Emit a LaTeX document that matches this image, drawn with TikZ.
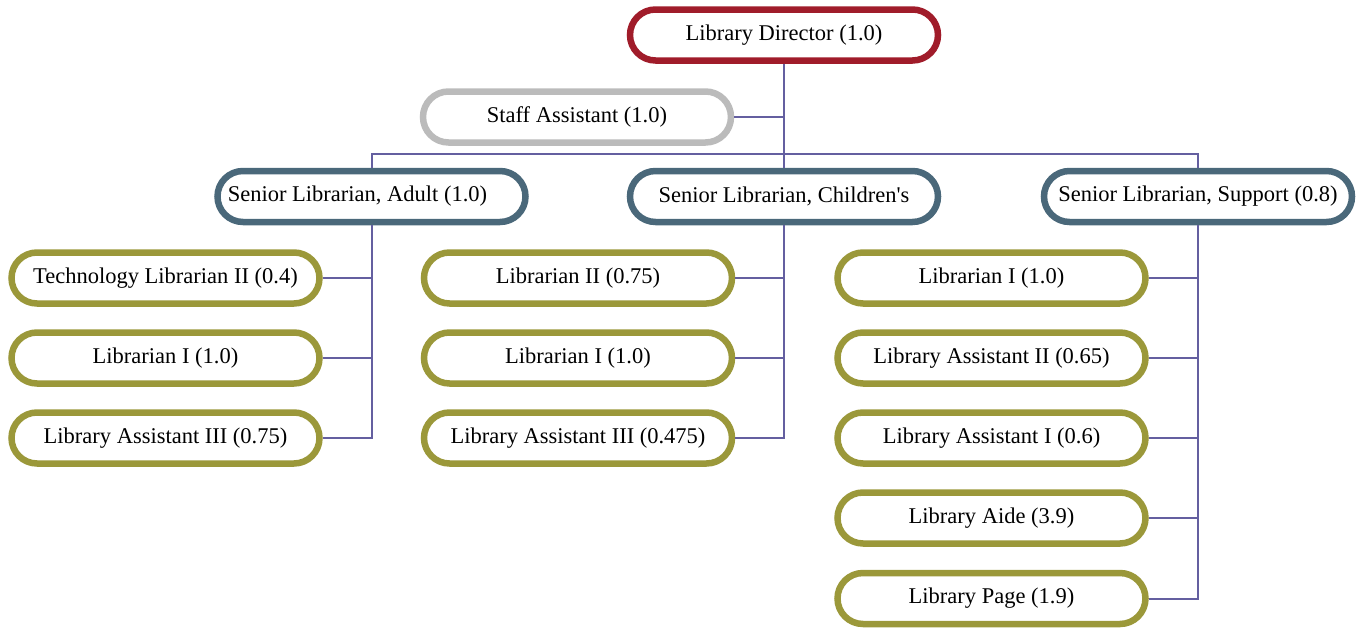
\documentclass[tikz,border=0pt]{standalone}
\usepackage{fontspec}
\setmainfont{Liberation Serif}
\definecolor{dirred}{RGB}{160,28,42}
\definecolor{staffgray}{RGB}{187,187,187}
\definecolor{slate}{RGB}{74,104,122}
\definecolor{olive}{RGB}{155,152,58}
\definecolor{linkc}{RGB}{100,95,160}
\begin{document}
\begin{tikzpicture}[x=1pt,y=-1pt,
  box/.style={draw, line width=6.5pt, fill=white, rounded corners=25.5pt,
    minimum width=308pt, minimum height=51pt, inner sep=0pt,
    font=\fontsize{22.5}{27}\selectfont},
  topbox/.style={box, draw=dirred},
  staffbox/.style={box, draw=staffgray},
  seniorbox/.style={box, draw=slate},
  leafbox/.style={box, draw=olive},
  link/.style={draw=linkc, line width=2pt}]
\useasboundingbox (0,0) rectangle (1358,627);
% nodes
\node[topbox] (dir) at (784,35) {Library Director (1.0)};
\node[staffbox] (sa) at (577,117) {Staff Assistant (1.0)};
\node[seniorbox] (sa1) at (371.5,196.5) {Senior Librarian, Adult (1.0)\hspace*{28pt}};
\node[seniorbox] (sc) at (784,196.5) {Senior Librarian, Children\textquotesingle s};
\node[seniorbox] (ss) at (1198,196.5) {Senior Librarian, Support (0.8)};
\node[leafbox] (a1) at (165.5,278) {Technology Librarian II (0.4)};
\node[leafbox] (a2) at (165.5,358) {Librarian I (1.0)};
\node[leafbox] (a3) at (165.5,438) {Library Assistant III (0.75)};
\node[leafbox] (c1) at (578,278) {Librarian II (0.75)};
\node[leafbox] (c2) at (578,358) {Librarian I (1.0)};
\node[leafbox] (c3) at (578,438) {Library Assistant III (0.475)};
\node[leafbox] (s1) at (991.5,278) {Librarian I (1.0)};
\node[leafbox] (s2) at (991.5,358) {Library Assistant II (0.65)};
\node[leafbox] (s3) at (991.5,438) {Library Assistant I (0.6)};
\node[leafbox] (s4) at (991.5,518) {Library Aide (3.9)};
\node[leafbox] (s5) at (991.5,598.5) {Library Page (1.9)};
% coordinates
\coordinate (bus) at (784,154);
% connectors
\draw[link] (dir.south) -- (sc.north);
\draw[link] (sa.east) -- (sa.east -| dir.south);
\draw[link] (sa1.north) |- (bus) -| (ss.north);
\draw[link] (sa1.south) |- (a3.east);
\draw[link] (a1.east) -- (a1.east -| sa1.south);
\draw[link] (a2.east) -- (a2.east -| sa1.south);
\draw[link] (sc.south) |- (c3.east);
\draw[link] (c1.east) -- (c1.east -| sc.south);
\draw[link] (c2.east) -- (c2.east -| sc.south);
\draw[link] (ss.south) |- (s5.east);
\draw[link] (s1.east) -- (s1.east -| ss.south);
\draw[link] (s2.east) -- (s2.east -| ss.south);
\draw[link] (s3.east) -- (s3.east -| ss.south);
\draw[link] (s4.east) -- (s4.east -| ss.south);
\end{tikzpicture}
\end{document}
